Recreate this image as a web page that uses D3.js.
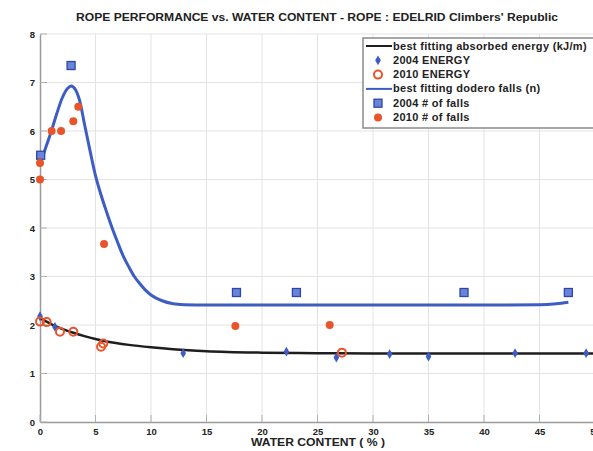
<!DOCTYPE html>
<html>
<head>
<meta charset="utf-8">
<script src="https://cdn.jsdelivr.net/npm/d3@7"></script>
<style>
	body { margin: 0; background: #fff; }
	svg { display: block; font-family: "Liberation Sans", Arial, sans-serif; }
</style>
</head>
<body>
<div id="chart"></div>
<script>
// x ticks / y ticks
var xTicks = [0, 5, 10, 15, 20, 25, 30, 35, 40, 45, 50];
var yTicks = [0, 1, 2, 3, 4, 5, 6, 7, 8];

// best fitting absorbed energy (kJ/m) : [water %, value]
var energyFit = [[0, 2.14], [1, 2.02], [2, 1.92], [3, 1.84], [4, 1.77], [5, 1.71], [6, 1.66],
	[8, 1.59], [10, 1.54], [12, 1.5], [15, 1.46], [20, 1.43], [25, 1.42], [30, 1.41], [40, 1.41], [50, 1.41]];
var energy2004 = [[0, 2.18], [1.35, 1.96], [12.9, 1.42], [22.2, 1.45], [26.7, 1.33], [31.5, 1.4],
	[35.0, 1.35], [42.8, 1.42], [49.2, 1.42]];
var energy2010 = [[0, 2.07], [0.6, 2.06], [1.8, 1.86], [3.0, 1.86], [5.5, 1.55], [5.7, 1.62], [27.2, 1.43]];

// best fitting dodero falls (n)
var fallsFit = [[0, 5.3], [0.5, 5.65], [1, 5.98], [1.5, 6.35], [2, 6.68], [2.5, 6.88], [2.8, 6.93],
	[3.2, 6.85], [3.6, 6.6], [4, 6.15], [4.5, 5.6], [5, 5.08], [5.5, 4.68], [6, 4.33], [6.5, 4.0],
	[7, 3.7], [7.5, 3.42], [8, 3.2], [8.5, 3.0], [9, 2.85], [9.5, 2.72], [10, 2.62], [11, 2.5],
	[12, 2.44], [13, 2.42], [15, 2.41], [20, 2.41], [30, 2.41], [40, 2.41], [45, 2.42], [46.5, 2.44], [47.6, 2.47]];
var falls2004 = [[0.06, 5.5], [2.8, 7.35], [17.7, 2.67], [23.1, 2.67], [38.2, 2.67], [47.6, 2.67]];
var falls2010 = [[0, 5.34], [0, 5.0], [1.05, 6.0], [1.9, 6.0], [3.0, 6.2], [3.45, 6.5], [5.77, 3.67],
	[17.6, 1.98], [26.1, 2.0]];

var legendLabels = ["best fitting absorbed energy (kJ/m)", "2004 ENERGY", "2010 ENERGY",
	"best fitting dodero falls (n)", "2004 # of falls", "2010 # of falls"];

var W = 593, H = 451;
var blue = "#3d5cc4", red = "#e8552b", black = "#1e1e1e";

var svg = d3.select("#chart").append("svg")
	.attr("width", W)
	.attr("height", H);
svg.append("rect").attr("width", W).attr("height", H).attr("fill", "#fff");

var x = d3.scaleLinear().domain([0, 50]).range([40, 595]);
var y = d3.scaleLinear().domain([0, 8]).range([422, 34]);

// grid
svg.append("g").selectAll("line").data(xTicks.slice(1)).enter().append("line")
	.attr("x1", d => x(d)).attr("x2", d => x(d))
	.attr("y1", y(8)).attr("y2", y(0))
	.attr("stroke", "#e3e3e3");
svg.append("g").selectAll("line").data(yTicks.slice(1)).enter().append("line")
	.attr("x1", x(0)).attr("x2", W)
	.attr("y1", d => y(d)).attr("y2", d => y(d))
	.attr("stroke", "#e3e3e3");

// axes
var xAxis = svg.append("g")
	.attr("transform", "translate(0," + y(0) + ")")
	.call(d3.axisBottom(x).tickValues(xTicks).tickSize(0).tickPadding(6));
var yAxis = svg.append("g")
	.attr("transform", "translate(" + x(0) + ",0)")
	.call(d3.axisLeft(y).tickValues(yTicks).tickSize(0).tickPadding(5));
[xAxis, yAxis].forEach(function (a) {
	a.select(".domain").attr("stroke", "#9a9a9a").attr("stroke-width", 1.5);
	a.selectAll("text").attr("font-size", "9.5px").attr("font-weight", "bold").attr("fill", "#222");
});
// small inner tick marks
svg.append("g").selectAll("line").data(yTicks).enter().append("line")
	.attr("x1", x(0)).attr("x2", x(0) + 7)
	.attr("y1", d => y(d)).attr("y2", d => y(d))
	.attr("stroke", "#b0b0b0");
svg.append("g").selectAll("line").data(xTicks).enter().append("line")
	.attr("x1", d => x(d)).attr("x2", d => x(d))
	.attr("y1", y(0)).attr("y2", y(0) - 7)
	.attr("stroke", "#b0b0b0");

// titles
svg.append("text")
	.attr("x", 317).attr("y", 21)
	.attr("text-anchor", "middle")
	.attr("font-size", "10.5px").attr("font-weight", "bold").attr("fill", "#222")
	.attr("textLength", 482).attr("lengthAdjust", "spacingAndGlyphs")
	.text("ROPE PERFORMANCE vs. WATER CONTENT  -  ROPE : EDELRID Climbers' Republic");
svg.append("text")
	.attr("x", 318).attr("y", 446)
	.attr("text-anchor", "middle")
	.attr("font-size", "11px").attr("font-weight", "bold").attr("fill", "#222")
	.attr("textLength", 134).attr("lengthAdjust", "spacingAndGlyphs")
	.text("WATER CONTENT ( % )");

// curves
var line = d3.line().curve(d3.curveMonotoneX)
	.x(d => x(d[0])).y(d => y(d[1]));
svg.append("path").datum(fallsFit)
	.attr("d", line).attr("fill", "none")
	.attr("stroke", blue).attr("stroke-width", 3);
svg.append("path").datum(energyFit)
	.attr("d", line).attr("fill", "none")
	.attr("stroke", black).attr("stroke-width", 2.5);

// markers
function drawSquare(g, px, py) {
	g.append("rect").attr("x", px - 4).attr("y", py - 4).attr("width", 8).attr("height", 8)
		.attr("fill", "#6a84da").attr("stroke", "#2d47a8").attr("stroke-width", 1.3);
}
function drawDot(g, px, py) {
	g.append("circle").attr("cx", px).attr("cy", py).attr("r", 4)
		.attr("fill", red);
}
function drawRing(g, px, py) {
	g.append("circle").attr("cx", px).attr("cy", py).attr("r", 4)
		.attr("fill", "none").attr("stroke", red).attr("stroke-width", 2);
}
function drawStar(g, px, py) {
	g.append("path").attr("d", d3.symbol().type(d3.symbolDiamond).size(28)())
		.attr("transform", "translate(" + px + "," + py + ")")
		.attr("fill", blue);
}

var marks = svg.append("g");
falls2004.forEach(d => drawSquare(marks, x(d[0]), y(d[1])));
falls2010.forEach(d => drawDot(marks, x(d[0]), y(d[1])));
energy2004.forEach(d => drawStar(marks, x(d[0]), y(d[1])));
energy2010.forEach(d => drawRing(marks, x(d[0]), y(d[1])));

// legend
var lg = svg.append("g");
lg.append("rect").attr("x", 363).attr("y", 38).attr("width", 240).attr("height", 90)
	.attr("fill", "#fff").attr("stroke", "#8a8a8a").attr("stroke-width", 1.5);
var rowH = 14.3, row0 = 46;
legendLabels.forEach(function (t, i) {
	var ry = row0 + i * rowH;
	if (i === 0 || i === 3) {
		lg.append("line").attr("x1", 366).attr("x2", 392).attr("y1", ry).attr("y2", ry)
			.attr("stroke", i === 0 ? black : blue).attr("stroke-width", 2);
	} else if (i === 1) drawStar(lg, 378, ry);
	else if (i === 2) drawRing(lg, 378, ry);
	else if (i === 4) drawSquare(lg, 378, ry);
	else drawDot(lg, 378, ry);
	lg.append("text").attr("x", 393).attr("y", ry + 3.5)
		.attr("font-size", "11px").attr("font-weight", "bold").attr("fill", "#222")
		.attr("letter-spacing", "0.3px")
		.text(t);
});
</script>
</body>
</html>
